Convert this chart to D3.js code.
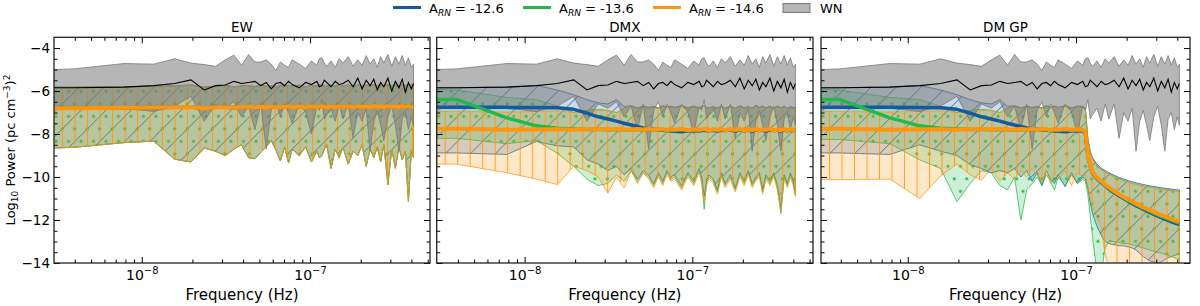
<!DOCTYPE html>
<html>
<head>
<meta charset="utf-8">
<script src="https://cdn.jsdelivr.net/npm/d3@7"></script>
<style>
  body { margin: 0; background: #fff; }
  text { font-family: "DejaVu Sans", sans-serif; }
</style>
</head>
<body>
<svg id="chart" width="1200" height="306"></svg>
<script>
// ---------------- data ----------------
// frequency bins: harmonic number k, f = k * F0 (first entry sits on the left edge)
var F0 = 3.92e-9;
var harmonics = [0.75, 1, 2, 3, 4, 5, 6, 7, 8, 9,
  10, 11, 12, 13, 14, 15, 16, 17, 18, 19,
  20, 22, 24, 26, 28, 29, 30, 31, 32, 34,
  36, 38, 40, 43, 46, 49, 52, 55, 58, 61,
  64, 67, 70, 74, 78, 82, 86, 90, 94, 98,
  102, 105];

var ampLabels = ["-12.6", "-13.6", "-14.6"];
var titles = ["EW", "DMX", "DM GP"];
var yTicks = [-14, -12, -10, -8, -6, -4];
var xTicks = [1e-8, 1e-7];
var xMinorTicks = [4e-9, 5e-9, 6e-9, 7e-9, 8e-9, 9e-9, 2e-8, 3e-8, 4e-8, 5e-8, 6e-8, 7e-8, 8e-8, 9e-8,
  2e-7, 3e-7, 4e-7, 5e-7];

// white noise band (same in every panel)
var wnHi = [-5.00, -4.97, -4.72, -4.75, -4.50, -4.70, -4.77, -4.85, -4.55, -4.33,
  -4.80, -4.30, -4.65, -4.65, -4.55, -4.75, -5.05, -4.65, -4.80, -4.90,
  -4.55, -4.75, -4.95, -4.60, -4.80, -4.50, -4.45, -4.70, -4.85, -4.60,
  -4.90, -4.50, -4.70, -4.40, -4.85, -4.55, -4.80, -4.35, -4.75, -4.50,
  -4.90, -4.40, -4.70, -4.30, -4.85, -4.40, -4.75, -4.35, -4.80, -4.45,
  -4.90, -4.75];
var wnMed = [-5.85, -5.85, -5.82, -5.75, -5.65, -5.48, -5.95, -5.75, -5.72, -5.55,
  -5.65, -5.60, -5.55, -5.75, -5.60, -5.90, -5.65, -5.60, -5.75, -5.55,
  -5.70, -5.85, -5.60, -5.70, -5.55, -5.80, -5.75, -5.50, -5.60, -5.80,
  -5.55, -5.70, -5.65, -5.50, -5.80, -5.40, -5.90, -5.50, -5.75, -5.45,
  -5.95, -5.60, -5.80, -5.40, -6.00, -5.55, -5.85, -5.45, -6.05, -5.60,
  -5.90, -5.65];
var wnLo = [-6.70, -6.75, -6.80, -6.95, -6.70, -6.25, -7.40, -6.60, -6.80, -6.50,
  -7.20, -6.70, -7.80, -6.60, -8.70, -6.90, -6.50, -7.20, -6.60, -7.00,
  -7.50, -6.60, -7.00, -8.00, -6.70, -6.90, -6.40, -7.30, -7.10, -6.80,
  -7.40, -6.60, -7.30, -6.60, -8.20, -7.00, -7.40, -6.80, -8.80, -7.40,
  -6.90, -7.60, -8.30, -7.20, -6.70, -7.60, -8.80, -7.30, -7.00, -7.80,
  -7.20, -7.60];

// EW: the three amplitudes give the same band
var ewHi = [-5.82, -5.82, -5.80, -5.78, -5.76, -5.72, -5.82, -5.78, -5.75, -5.80,
  -5.76, -5.74, -5.80, -5.72, -5.78, -5.75, -5.82, -5.74, -5.77, -5.73,
  -5.78, -5.72, -5.80, -5.74, -5.76, -5.71, -5.70, -5.77, -5.78, -5.73,
  -5.77, -5.71, -5.76, -5.72, -5.79, -5.70, -5.76, -5.72, -5.78, -5.70,
  -5.75, -5.71, -5.77, -5.70, -5.76, -5.72, -5.78, -5.70, -5.75, -5.71,
  -5.74, -5.72];
var ewMed = [-6.80, -6.80, -6.78, -6.77, -6.76, -6.74, -6.80, -6.76, -6.75, -6.77,
  -6.74, -6.72, -6.76, -6.73, -6.75, -6.72, -6.76, -6.73, -6.74, -6.71,
  -6.75, -6.72, -6.76, -6.71, -6.74, -6.72, -6.70, -6.74, -6.75, -6.72,
  -6.76, -6.70, -6.74, -6.71, -6.76, -6.70, -6.74, -6.72, -6.75, -6.69,
  -6.74, -6.71, -6.76, -6.70, -6.74, -6.71, -6.75, -6.69, -6.73, -6.70,
  -6.74, -6.72];
var ewLo = [-8.65, -8.62, -8.40, -8.33, -9.17, -9.30, -8.65, -8.80, -9.00, -8.70,
  -8.50, -9.10, -9.15, -8.85, -8.60, -8.30, -8.75, -9.25, -8.60, -9.35,
  -8.70, -9.00, -8.60, -9.30, -8.80, -9.10, -9.00, -8.70, -8.50, -9.60,
  -8.70, -9.10, -8.60, -9.40, -8.80, -9.00, -8.50, -9.50, -8.70, -9.10,
  -8.60, -9.30, -8.50, -10.35, -8.70, -9.60, -8.60, -9.20, -8.80, -11.15,
  -8.70, -9.10];

// DMX
var dmxBlueHi = [-5.86, -5.85, -5.80, -5.74, -5.95, -6.17, -6.40, -6.55, -6.60, -6.40,
  -6.72, -6.68, -6.78, -6.70, -6.76, -6.72, -6.78, -6.68, -6.74, -6.70,
  -6.76, -6.68, -6.78, -6.70, -6.80, -6.72, -6.66, -6.76, -6.78, -6.72,
  -6.78, -6.70, -6.80, -6.70, -6.80, -6.68, -6.78, -6.72, -6.80, -6.66,
  -6.76, -6.70, -6.78, -6.70, -6.80, -6.70, -6.78, -6.70, -6.80, -6.72,
  -6.78, -6.74];
var dmxBlueMed = [-6.76, -6.76, -6.76, -6.77, -6.78, -6.85, -7.03, -7.20, -7.30, -7.40,
  -7.50, -7.58, -7.65, -7.72, -7.76, -7.78, -7.80, -7.82, -7.84, -7.86,
  -7.87, -7.89, -7.86, -7.84, -7.86, -7.84, -7.82, -7.84, -7.85, -7.83,
  -7.86, -7.82, -7.84, -7.81, -7.86, -7.80, -7.85, -7.82, -7.86, -7.80,
  -7.84, -7.82, -7.86, -7.80, -7.84, -7.82, -7.86, -7.80, -7.85, -7.82,
  -7.84, -7.83];
var dmxBlueLo = [-8.88, -8.88, -8.95, -8.35, -8.55, -8.60, -9.20, -9.40, -9.70, -9.50,
  -9.90, -9.60, -10.10, -9.70, -9.90, -10.30, -9.80, -10.20, -9.70, -10.00,
  -9.90, -10.40, -9.80, -10.20, -9.60, -10.00, -10.90, -10.20, -9.90, -10.10,
  -10.60, -9.80, -10.30, -9.90, -10.50, -9.80, -10.20, -9.70, -10.30, -10.00,
  -9.80, -10.60, -9.90, -10.20, -9.80, -10.40, -11.50, -9.90, -10.30, -9.80,
  -10.20, -10.80];
var dmxGreenHi = [-5.92, -5.95, -6.30, -6.40, -6.70, -7.00, -6.90, -6.85, -6.90, -7.00,
  -6.80, -6.72, -6.80, -6.74, -6.79, -6.75, -6.80, -6.71, -6.77, -6.73,
  -6.79, -6.71, -6.81, -6.73, -6.83, -6.75, -6.69, -6.79, -6.81, -6.75,
  -6.81, -6.73, -6.83, -6.73, -6.83, -6.71, -6.81, -6.75, -6.83, -6.69,
  -6.79, -6.73, -6.81, -6.73, -6.83, -6.73, -6.81, -6.73, -6.83, -6.75,
  -6.81, -6.77];
var dmxGreenMed = [-6.39, -6.39, -7.25, -7.62, -7.73, -7.77, -7.79, -7.78, -7.80, -7.79,
  -7.80, -7.81, -7.79, -7.80, -7.78, -7.81, -7.80, -7.79, -7.82, -7.80,
  -7.81, -7.79, -7.83, -7.80, -7.81, -7.80, -7.79, -7.81, -7.82, -7.79,
  -7.82, -7.79, -7.81, -7.78, -7.84, -7.80, -7.82, -7.79, -7.83, -7.79,
  -7.81, -7.79, -7.82, -7.78, -7.84, -7.80, -7.83, -7.79, -7.82, -7.80,
  -7.82, -7.81];
var dmxGreenLo = [-8.20, -8.20, -8.45, -8.30, -8.90, -9.50, -10.10, -10.40, -10.30, -9.90,
  -10.20, -9.70, -10.20, -9.80, -10.00, -10.40, -9.90, -10.30, -9.80, -10.10,
  -10.00, -10.50, -9.90, -10.30, -9.70, -10.20, -11.50, -10.30, -10.00, -10.20,
  -10.70, -9.90, -10.40, -10.00, -10.60, -9.90, -10.30, -9.80, -10.40, -10.10,
  -9.90, -10.70, -10.00, -10.30, -9.90, -10.50, -11.70, -10.00, -10.40, -9.90,
  -10.30, -10.85];
var dmxOrangeHi = [-6.95, -6.95, -6.98, -6.95, -6.92, -7.00, -6.95, -6.90, -6.92, -7.00,
  -6.82, -6.73, -6.81, -6.75, -6.80, -6.76, -6.81, -6.72, -6.78, -6.74,
  -6.80, -6.72, -6.82, -6.74, -6.84, -6.76, -6.70, -6.80, -6.82, -6.76,
  -6.82, -6.74, -6.84, -6.74, -6.84, -6.72, -6.82, -6.76, -6.84, -6.70,
  -6.80, -6.74, -6.82, -6.74, -6.84, -6.74, -6.82, -6.74, -6.84, -6.76,
  -6.82, -6.78];
var dmxOrangeMed = [-7.75, -7.76, -7.80, -7.79, -7.78, -7.80, -7.78, -7.76, -7.79, -7.77,
  -7.78, -7.80, -7.77, -7.79, -7.76, -7.80, -7.78, -7.77, -7.81, -7.78,
  -7.80, -7.77, -7.82, -7.78, -7.80, -7.78, -7.76, -7.80, -7.83, -7.78,
  -7.80, -7.77, -7.82, -7.78, -7.80, -7.76, -7.84, -7.79, -7.81, -7.77,
  -7.83, -7.78, -7.80, -7.76, -7.84, -7.79, -7.82, -7.77, -7.83, -7.78,
  -7.81, -7.80];
var dmxOrangeLo = [-9.40, -9.40, -9.80, -10.10, -10.35, -9.50, -9.70, -10.00, -10.75, -10.00,
  -10.50, -9.70, -10.30, -9.80, -10.10, -10.50, -10.00, -10.40, -9.90, -10.20,
  -10.10, -10.60, -10.00, -10.40, -9.80, -10.30, -11.20, -10.40, -10.10, -10.30,
  -10.80, -10.00, -10.50, -10.10, -10.70, -10.00, -10.40, -9.90, -10.50, -10.20,
  -10.00, -10.80, -10.10, -10.40, -10.00, -10.60, -11.60, -10.10, -10.50, -10.00,
  -10.40, -10.90];

// DM GP
var gpBlueHi = [-5.86, -5.85, -5.80, -5.74, -5.95, -6.17, -6.40, -6.55, -6.60, -6.40,
  -6.72, -6.68, -6.78, -6.70, -6.76, -6.72, -6.78, -6.68, -6.74, -6.70,
  -6.76, -6.68, -6.78, -6.70, -6.72, -6.80, -8.20, -8.80, -9.10, -9.40,
  -9.58, -9.70, -9.80, -9.92, -10.02, -10.10, -10.16, -10.22, -10.27, -10.31,
  -10.35, -10.38, -10.41, -10.44, -10.47, -10.50, -10.52, -10.54, -10.56, -10.58,
  -10.59, -10.60];
var gpBlueMed = [-6.76, -6.76, -6.76, -6.77, -6.78, -6.85, -7.03, -7.20, -7.30, -7.40,
  -7.50, -7.58, -7.65, -7.72, -7.76, -7.78, -7.80, -7.82, -7.84, -7.86,
  -7.87, -7.89, -7.86, -7.84, -7.86, -7.95, -9.00, -9.50, -9.82, -10.08,
  -10.25, -10.40, -10.55, -10.72, -10.87, -11.00, -11.12, -11.23, -11.33, -11.42,
  -11.50, -11.58, -11.65, -11.74, -11.82, -11.89, -11.96, -12.02, -12.08, -12.13,
  -12.18, -12.22];
var gpBlueLo = [-8.88, -8.88, -8.95, -8.50, -8.80, -9.00, -9.43, -9.60, -9.81, -9.70,
  -9.80, -9.60, -10.00, -9.70, -10.20, -9.80, -10.40, -9.70, -10.10, -10.30,
  -9.90, -10.45, -9.80, -10.30, -10.00, -10.10, -10.50, -11.20, -11.70, -12.30,
  -12.70, -13.00, -13.10, -13.15, -13.20, -13.20, -13.25, -13.30, -13.40, -13.55,
  -13.70, -13.80, -13.90, -13.95, -14.00, -13.95, -13.85, -13.75, -13.70, -13.65,
  -13.60, -13.60];
var gpGreenHi = [-5.92, -5.95, -6.30, -6.40, -6.70, -7.00, -6.90, -6.85, -6.90, -7.00,
  -6.80, -6.72, -6.80, -6.74, -6.79, -6.75, -6.80, -6.71, -6.77, -6.73,
  -6.79, -6.71, -6.81, -6.73, -6.75, -6.83, -8.26, -8.86, -9.16, -9.46,
  -9.64, -9.76, -9.86, -9.98, -10.08, -10.16, -10.22, -10.28, -10.33, -10.37,
  -10.41, -10.44, -10.47, -10.50, -10.53, -10.56, -10.58, -10.60, -10.62, -10.64,
  -10.65, -10.66];
var gpGreenMed = [-6.39, -6.39, -7.25, -7.62, -7.73, -7.77, -7.79, -7.78, -7.80, -7.79,
  -7.80, -7.81, -7.79, -7.80, -7.78, -7.81, -7.80, -7.79, -7.82, -7.80,
  -7.81, -7.79, -7.83, -7.80, -7.81, -7.92, -8.98, -9.48, -9.80, -10.05,
  -10.22, -10.38, -10.51, -10.68, -10.83, -10.96, -11.08, -11.18, -11.28, -11.37,
  -11.45, -11.52, -11.59, -11.68, -11.76, -11.83, -11.89, -11.95, -12.01, -12.06,
  -12.11, -12.14];
var gpGreenLo = [-8.25, -8.25, -8.45, -9.20, -9.60, -11.15, -10.30, -9.70, -9.80, -10.40,
  -10.60, -10.00, -12.00, -10.60, -10.30, -10.00, -10.40, -9.90, -10.20, -10.60,
  -10.00, -10.40, -9.90, -10.30, -10.10, -10.20, -10.80, -11.80, -12.80, -14.50,
  -14.50, -13.30, -13.00, -13.00, -13.05, -13.10, -13.10, -13.15, -13.20, -13.25,
  -13.30, -13.35, -13.40, -13.45, -13.50, -13.55, -13.60, -13.65, -13.70, -13.75,
  -13.80, -13.85];
var gpOrangeHi = [-6.95, -6.95, -6.98, -6.95, -6.92, -7.00, -6.95, -6.90, -6.92, -7.00,
  -6.82, -6.73, -6.81, -6.75, -6.80, -6.76, -6.81, -6.72, -6.78, -6.74,
  -6.80, -6.72, -6.82, -6.74, -6.76, -6.84, -8.28, -8.88, -9.18, -9.48,
  -9.66, -9.78, -9.88, -10.00, -10.10, -10.18, -10.24, -10.30, -10.35, -10.39,
  -10.43, -10.46, -10.49, -10.52, -10.55, -10.58, -10.60, -10.62, -10.64, -10.66,
  -10.67, -10.68];
var gpOrangeMed = [-7.75, -7.76, -7.80, -7.79, -7.78, -7.80, -7.78, -7.76, -7.79, -7.77,
  -7.78, -7.80, -7.77, -7.79, -7.76, -7.80, -7.78, -7.77, -7.81, -7.78,
  -7.80, -7.77, -7.80, -7.78, -7.80, -7.90, -8.95, -9.45, -9.78, -10.02,
  -10.20, -10.35, -10.48, -10.65, -10.80, -10.93, -11.04, -11.14, -11.24, -11.32,
  -11.40, -11.47, -11.54, -11.62, -11.70, -11.77, -11.83, -11.89, -11.95, -12.00,
  -12.05, -12.08];
var gpOrangeLo = [-10.12, -10.12, -10.10, -11.00, -9.95, -9.40, -9.90, -10.15, -9.60, -10.20,
  -9.80, -10.10, -9.70, -10.00, -9.60, -9.90, -10.20, -9.70, -10.30, -9.80,
  -10.10, -9.70, -10.40, -9.80, -10.00, -9.90, -10.40, -11.00, -11.40, -11.90,
  -12.30, -13.60, -14.20, -14.60, -14.60, -14.60, -14.60, -14.60, -14.60, -14.60,
  -14.60, -14.60, -14.60, -14.60, -14.60, -14.60, -14.60, -14.60, -14.60, -14.60,
  -14.60, -14.60];

// ---------------- layout ----------------
var COLORS = { blue: "#1659a3", green: "#22b84a", orange: "#ff950e" };
var TOP = 37.3, BOTTOM = 263;
var freqs = harmonics.map(function(k) { return k * F0; });

var panels = [{
  left: 54, right: 430, fDomain: [3.01e-9, 5.16e-7], yLabels: true,
  bands: [
    { c: "blue", lo: ewLo, med: ewMed, hi: ewHi },
    { c: "green", lo: ewLo, med: ewMed, hi: ewHi },
    { c: "orange", lo: ewLo, med: ewMed, hi: ewHi }
  ]
}, {
  left: 436.7, right: 813, fDomain: [2.99e-9, 5.24e-7], yLabels: false,
  bands: [
    { c: "blue", lo: dmxBlueLo, med: dmxBlueMed, hi: dmxBlueHi },
    { c: "green", lo: dmxGreenLo, med: dmxGreenMed, hi: dmxGreenHi },
    { c: "orange", lo: dmxOrangeLo, med: dmxOrangeMed, hi: dmxOrangeHi }
  ]
}, {
  left: 821, right: 1190, fDomain: [3.05e-9, 4.76e-7], yLabels: false,
  bands: [
    { c: "blue", lo: gpBlueLo, med: gpBlueMed, hi: gpBlueHi },
    { c: "green", lo: gpGreenLo, med: gpGreenMed, hi: gpGreenHi },
    { c: "orange", lo: gpOrangeLo, med: gpOrangeMed, hi: gpOrangeHi }
  ]
}];

var svg = d3.select("#chart");
svg.append("rect").attr("width", 1200).attr("height", 306).attr("fill", "#fff");
var defs = svg.append("defs");

//hatch patterns: | for orange, . for green, / for blue
var pV = defs.append("pattern").attr("id", "hatch-orange")
  .attr("patternUnits", "userSpaceOnUse").attr("width", 12.5).attr("height", 12.5).attr("x", 8);
pV.append("line").attr("x1", 0.5).attr("x2", 0.5).attr("y1", 0).attr("y2", 12.5)
  .attr("stroke", COLORS.orange).attr("stroke-width", 1).attr("stroke-opacity", 0.85);

var pD = defs.append("pattern").attr("id", "hatch-green")
  .attr("patternUnits", "userSpaceOnUse").attr("width", 12.5).attr("height", 25).attr("x", 2).attr("y", 4);
[[0, 0], [12.5, 0], [0, 25], [12.5, 25], [6.25, 12.5]].forEach(function(c) {
  pD.append("circle").attr("cx", c[0]).attr("cy", c[1]).attr("r", 1.6)
    .attr("fill", COLORS.green).attr("fill-opacity", 0.95);
});

var pS = defs.append("pattern").attr("id", "hatch-blue")
  .attr("patternUnits", "userSpaceOnUse").attr("width", 25).attr("height", 25);
pS.append("path").attr("d", "M-5,30L30,-5M-5,5L5,-5M20,30L30,20")
  .attr("stroke", COLORS.blue).attr("stroke-width", 1).attr("stroke-opacity", 0.85);

var y = d3.scaleLinear().domain([-14, -3.5]).range([BOTTOM - TOP, 0]);

function rows(s) {
  return freqs.map(function(f, i) { return { f: f, lo: s.lo[i], med: s.med[i], hi: s.hi[i] }; });
}

function cleanAxis(g) {
  g.select(".domain").remove();
  g.attr("font-family", null).attr("font-size", null);
}

panels.forEach(function(p, pi) {
  var w = p.right - p.left, h = BOTTOM - TOP;
  var x = d3.scaleLog().domain(p.fDomain).range([0, w]);
  var g = svg.append("g").attr("transform", "translate(" + p.left + "," + TOP + ")");
  defs.append("clipPath").attr("id", "clip" + pi).append("rect").attr("width", w).attr("height", h);
  var plot = g.append("g").attr("clip-path", "url(#clip" + pi + ")");

  var area = d3.area().x(function(d) { return x(d.f); })
    .y0(function(d) { return y(d.lo); }).y1(function(d) { return y(d.hi); });
  var line = d3.line().x(function(d) { return x(d.f); }).y(function(d) { return y(d.med); });

  //credible bands
  p.bands.forEach(function(b) {
    var d = area(rows(b));
    plot.append("path").attr("d", d).attr("fill", COLORS[b.c]).attr("fill-opacity", 0.22);
    plot.append("path").attr("d", d).attr("fill", "url(#hatch-" + b.c + ")")
      .attr("stroke", COLORS[b.c]).attr("stroke-width", 1).attr("stroke-opacity", 0.75);
  });

  //white noise
  var wn = rows({ lo: wnLo, med: wnMed, hi: wnHi });
  plot.append("path").attr("d", area(wn)).attr("fill", "#7a7a7a").attr("fill-opacity", 0.55)
    .attr("stroke", "#7a7a7a").attr("stroke-opacity", 0.8).attr("stroke-width", 1);

  //medians
  p.bands.forEach(function(b) {
    plot.append("path").attr("d", line(rows(b))).attr("fill", "none")
      .attr("stroke", COLORS[b.c]).attr("stroke-width", b.c === "orange" ? 4 : 3.5)
      .attr("stroke-linejoin", "round");
  });
  plot.append("path").attr("d", line(wn)).attr("fill", "none")
    .attr("stroke", "#000").attr("stroke-width", 1.1);

  //ticks on all four sides, pointing in
  var minorX = xMinorTicks.filter(function(v) { return v > p.fDomain[0] && v < p.fDomain[1]; });
  var minorY = d3.range(-13.5, -3.5, 0.5).filter(function(v) { return v % 2 !== 0; });

  g.append("g").attr("transform", "translate(0," + h + ")")
    .call(d3.axisBottom(x).tickValues(minorX).tickSize(-3.5).tickSizeOuter(0).tickFormat(""))
    .call(cleanAxis);
  g.append("g").call(d3.axisTop(x).tickValues(minorX).tickSize(-3.5).tickSizeOuter(0).tickFormat(""))
    .call(cleanAxis);
  g.append("g").call(d3.axisTop(x).tickValues(xTicks).tickSize(-6).tickSizeOuter(0).tickFormat(""))
    .call(cleanAxis);
  var gx = g.append("g").attr("transform", "translate(0," + h + ")")
    .call(d3.axisBottom(x).tickValues(xTicks).tickSize(-6).tickSizeOuter(0).tickPadding(7))
    .call(cleanAxis);
  gx.selectAll(".tick text").each(function(d) {
    var t = d3.select(this).text(null).attr("font-size", 14).attr("fill", "#000");
    t.append("tspan").text("10");
    t.append("tspan").attr("dy", -6).attr("font-size", 10).text(d3.format("d")(Math.log10(d)));
  });

  g.append("g").call(d3.axisLeft(y).tickValues(minorY).tickSize(-3.5).tickSizeOuter(0).tickFormat(""))
    .call(cleanAxis);
  g.append("g").attr("transform", "translate(" + w + ",0)")
    .call(d3.axisRight(y).tickValues(minorY).tickSize(-3.5).tickSizeOuter(0).tickFormat(""))
    .call(cleanAxis);
  g.append("g").attr("transform", "translate(" + w + ",0)")
    .call(d3.axisRight(y).tickValues(yTicks).tickSize(-6).tickSizeOuter(0).tickFormat(""))
    .call(cleanAxis);
  var gy = g.append("g")
    .call(d3.axisLeft(y).tickValues(yTicks).tickSize(-6).tickSizeOuter(0).tickPadding(4)
      .tickFormat(p.yLabels ? d3.format("d") : ""))
    .call(cleanAxis);
  gy.selectAll(".tick text").attr("font-size", 13.5).attr("fill", "#000");

  //spines
  g.append("rect").attr("width", w).attr("height", h).attr("fill", "none")
    .attr("stroke", "#222").attr("stroke-width", 1.3);

  g.append("text").attr("x", w / 2).attr("y", 31.7 - TOP).attr("text-anchor", "middle")
    .attr("font-size", 13.5).text(titles[pi]);
  g.append("text").attr("x", w / 2).attr("y", 300 - TOP).attr("text-anchor", "middle")
    .attr("font-size", 15).text("Frequency (Hz)");
});

// y label
var yl = svg.append("text").attr("transform", "translate(15,150) rotate(-90)")
  .attr("text-anchor", "middle").attr("font-size", 13);
yl.append("tspan").text("Log");
yl.append("tspan").attr("font-size", 9).attr("dy", 3).text("10");
yl.append("tspan").attr("dy", -3).text(" Power (pc cm");
yl.append("tspan").attr("font-size", 9).attr("dy", -5).text("\u22123");
yl.append("tspan").attr("dy", 5).text(")");
yl.append("tspan").attr("font-size", 9).attr("dy", -5).text("2");

// legend
var legend = svg.append("g");
var legendX = [393, 523, 653];
["blue", "green", "orange"].forEach(function(c, i) {
  legend.append("line").attr("x1", legendX[i]).attr("x2", legendX[i] + 28).attr("y1", 7.5).attr("y2", 7.5)
    .attr("stroke", COLORS[c]).attr("stroke-width", 3);
  var t = legend.append("text").attr("x", legendX[i] + 36).attr("y", 12.5).attr("font-size", 13);
  t.append("tspan").text("A");
  t.append("tspan").attr("font-size", 9).attr("font-style", "italic").attr("dy", 3).text("RN");
  t.append("tspan").attr("dy", -3).text(" = " + ampLabels[i]);
});
legend.append("rect").attr("x", 783).attr("y", 3.5).attr("width", 27).attr("height", 9)
  .attr("fill", "#7a7a7a").attr("fill-opacity", 0.55).attr("stroke", "#7a7a7a");
legend.append("text").attr("x", 820).attr("y", 12.5).attr("font-size", 13).text("WN");
</script>
</body>
</html>
